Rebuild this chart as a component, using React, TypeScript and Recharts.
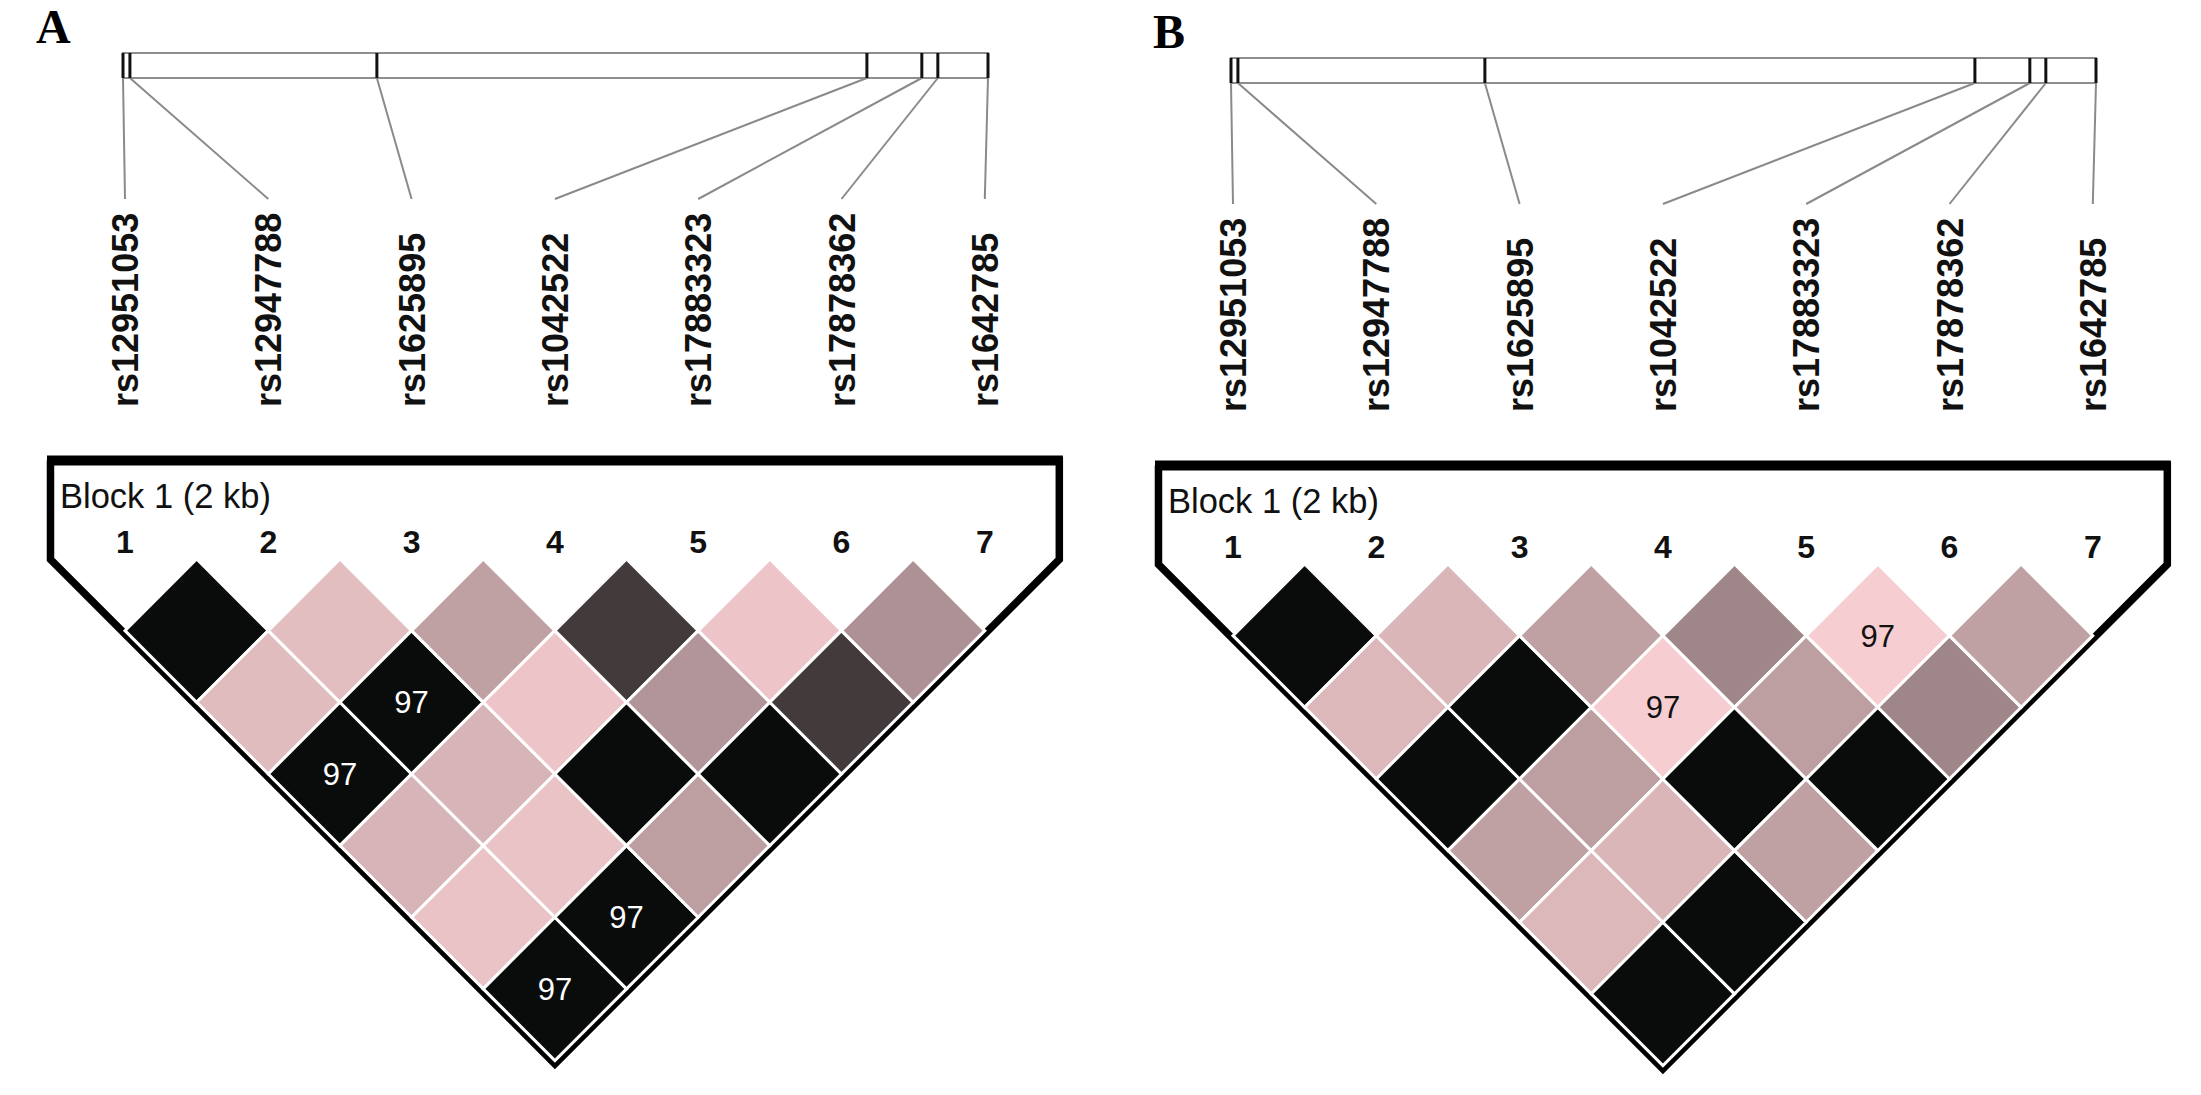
import React from "react";
import { ComposedChart, XAxis, YAxis, Scatter, Line, ReferenceLine, ReferenceArea } from "recharts";

// ==================== Data ====================

const snpNames = ["rs12951053", "rs12947788", "rs1625895", "rs1042522", "rs17883323", "rs17878362", "rs1642785"];
const snpPositionBp = [0, 16, 587, 1720, 1847, 1884, 2000]; // position inside the block
const blockLengthBp = 2000;
const blockLabel = "Block 1 (2 kb)";

// r² for marker i vs markers i+1..7 (row = first marker)
const r2PanelA = [
  [1.0, 0.09, 1.0, 0.13, 0.05, 1.0],
  [0.08, 1.0, 0.13, 0.05, 1.0],
  [0.23, 0.04, 1.0, 0.24],
  [0.76, 0.29, 1.0],
  [0.04, 0.76],
  [0.31],
];
// D' x100, 100 = not printed
const dPrimePanelA = [
  [100, 100, 97, 100, 100, 97],
  [100, 97, 100, 100, 97],
  [100, 100, 100, 100],
  [100, 100, 100],
  [100, 100],
  [100],
];

const r2PanelB = [
  [1.0, 0.11, 1.0, 0.23, 0.11, 1.0],
  [0.12, 1.0, 0.24, 0.12, 1.0],
  [0.23, 0.0, 1.0, 0.23],
  [0.37, 0.24, 1.0],
  [0.0, 0.37],
  [0.23],
];
const dPrimePanelB = [
  [100, 100, 100, 100, 100, 100],
  [100, 100, 100, 100, 100],
  [100, 97, 100, 100],
  [100, 100, 100],
  [97, 100],
  [100],
];

// ==================== Layout ====================

const CHART_W = 1090;
const CHART_H = 1090;
const SNP_X0 = 125;          // px of marker 1
const SNP_STEP = 143.3;      // px between markers
const ROW_Y0 = 559;          // px of the top of the first diamond row
const ROW_STEP = SNP_STEP / 2;
const RULER_X0 = 123;
const RULER_W = 865;
const RULER_TOP = 53;
const RULER_BOTTOM = 78;
const LABEL_TOP = 199;
const LABEL_BASE = 407;
const FRAME_MARGIN = 0.52;   // in marker units

const ux = (px: number) => (px - SNP_X0) / SNP_STEP;
const uy = (px: number) => (px - ROW_Y0) / ROW_STEP;
const bpToX = (bp: number) => ux(RULER_X0 + (bp / blockLengthBp) * RULER_W);

const LIGHT = [246, 205, 209];
const DARK = [10, 12, 11];
const ldColor = (r2: number) => {
  const c = LIGHT.map((v, k) => Math.round(v + (DARK[k] - v) * r2));
  return `rgb(${c[0]},${c[1]},${c[2]})`;
};

const SANS = "'Liberation Sans', Arial, sans-serif";

// ==================== Shapes ====================

const Diamond = (props: any) => {
  const { cx, cy, payload } = props;
  const h = ROW_STEP;
  const pts = `${cx},${cy - h} ${cx + h},${cy} ${cx},${cy + h} ${cx - h},${cy}`;
  return (
    <g>
      <polygon points={pts} fill={payload.fill} stroke="#ffffff" strokeWidth={3} />
      {payload.text ? (
        <text x={cx} y={cy + 11} textAnchor="middle" fontFamily={SANS} fontSize={31} fill={payload.textColor}>
          {payload.text}
        </text>
      ) : null}
    </g>
  );
};

const RotatedLabel = (props: any) => {
  const x = props.cx + 13;
  const y = props.cy;
  return (
    <text x={x} y={y} transform={`rotate(-90 ${x} ${y})`} textAnchor="start" fontFamily={SANS}
      fontWeight="bold" fontSize={36} fill="#111">
      {props.payload.text}
    </text>
  );
};

const textShape = (style: any) => (props: any) => (
  <text x={props.cx} y={props.cy} {...style}>{props.payload.text}</text>
);

// ==================== Panel ====================

interface PanelProps {
  title: string;
  titleX: number;
  r2: number[][];
  dPrime: number[][];
}

const LDPanel: React.FC<PanelProps> = ({ title, titleX, r2, dPrime }) => {
  const n = snpNames.length;
  const cells: any[] = [];
  r2.forEach((row, i) =>
    row.forEach((v, k) => {
      const j = i + k + 1;
      const d = dPrime[i][k];
      cells.push({
        x: (i + j) / 2,
        y: j - i,
        fill: ldColor(v),
        text: d < 100 ? String(d) : "",
        textColor: v > 0.5 ? "#ffffff" : "#111111",
      });
    })
  );

  const labels = snpNames.map((name, i) => ({ x: i, y: uy(LABEL_BASE), text: name }));
  const numbers = snpNames.map((_, i) => ({ x: i, y: uy(553), text: String(i + 1) }));

  const top = uy(460.5);
  const shoulder = uy(559.5);
  const mid = (n - 1) / 2;
  const bottom = shoulder + 2 * (mid + FRAME_MARGIN);
  const frame = [
    { x: -FRAME_MARGIN, y: top },
    { x: n - 1 + FRAME_MARGIN, y: top },
    { x: n - 1 + FRAME_MARGIN, y: shoulder },
    { x: mid, y: bottom },
    { x: -FRAME_MARGIN, y: shoulder },
    { x: -FRAME_MARGIN, y: top },
  ];
  const ext = 3.5 / SNP_STEP;

  return (
    <ComposedChart width={CHART_W} height={CHART_H} margin={{ top: 0, right: 0, bottom: 0, left: 0 }}>
      <XAxis type="number" dataKey="x" domain={[ux(0), ux(CHART_W)]} allowDataOverflow hide />
      <YAxis type="number" dataKey="y" domain={[uy(0), uy(CHART_H)]} allowDataOverflow reversed hide />

      <ReferenceArea x1={bpToX(0)} x2={bpToX(blockLengthBp)} y1={uy(RULER_TOP)} y2={uy(RULER_BOTTOM)}
        fill="#ffffff" fillOpacity={1} stroke="#8e8e8e" strokeWidth={2} />
      {snpPositionBp.map((bp, i) => (
        <ReferenceLine key={`c-${i}`} stroke="#8a8a8a" strokeWidth={2}
          segment={[{ x: bpToX(bp), y: uy(RULER_BOTTOM) }, { x: i, y: uy(LABEL_TOP) }]} />
      ))}
      {snpPositionBp.map((bp, i) => (
        <ReferenceLine key={`t-${i}`} stroke="#111" strokeWidth={3}
          segment={[{ x: bpToX(bp), y: uy(RULER_TOP) }, { x: bpToX(bp), y: uy(RULER_BOTTOM) }]} />
      ))}

      <Scatter data={[{ x: ux(titleX), y: uy(43), text: title }]} isAnimationActive={false}
        shape={textShape({ fontFamily: "'Liberation Serif', 'Times New Roman', serif", fontWeight: "bold", fontSize: 48, fill: "#000" })} />
      <Scatter data={labels} isAnimationActive={false} shape={RotatedLabel} />
      <Scatter data={[{ x: ux(60), y: uy(508), text: blockLabel }]} isAnimationActive={false}
        shape={textShape({ fontFamily: SANS, fontSize: 34.5, fill: "#111" })} />
      <Scatter data={numbers} isAnimationActive={false}
        shape={textShape({ fontFamily: SANS, fontWeight: "bold", fontSize: 32, fill: "#111", textAnchor: "middle" })} />

      <Scatter data={cells} isAnimationActive={false} shape={Diamond} />

      <Line data={frame} dataKey="y" type="linear" stroke="#000" strokeWidth={7.5} strokeLinejoin="miter"
        dot={false} activeDot={false} isAnimationActive={false} />
      <ReferenceLine stroke="#000" strokeWidth={10}
        segment={[{ x: -FRAME_MARGIN - ext, y: top }, { x: n - 1 + FRAME_MARGIN + ext, y: top }]} />
    </ComposedChart>
  );
};

// ==================== App ====================

const App: React.FC = () => {
  return (
    <div style={{ position: "absolute", left: 0, top: 0, width: 2201, height: 1095, overflow: "hidden", background: "#fff" }}>
      <div style={{ position: "absolute", left: 0, top: 0 }}>
        <LDPanel title="A" titleX={36} r2={r2PanelA} dPrime={dPrimePanelA} />
      </div>
      <div style={{ position: "absolute", left: 1108, top: 5 }}>
        <LDPanel title="B" titleX={45} r2={r2PanelB} dPrime={dPrimePanelB} />
      </div>
    </div>
  );
};

export default App;
